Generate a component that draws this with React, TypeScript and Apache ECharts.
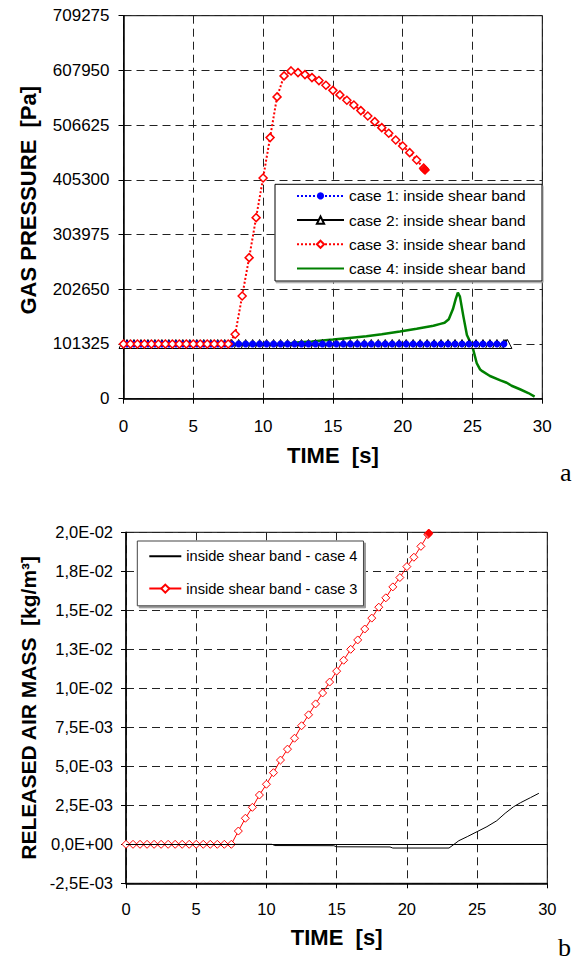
import React, { useEffect, useRef } from "react";
import * as echarts from "echarts";

const FONT = "'Liberation Sans', Arial, Helvetica, sans-serif";
const SERIF = "'Liberation Serif', 'Times New Roman', serif";

// ---------- chart a: gas pressure ----------
const timeTicksA = [0, 5, 10, 15, 20, 25, 30];
const pressureTicks = [0, 101325, 202650, 303975, 405300, 506625, 607950, 709275];

const case1Time = [0, 0.25, 0.75, 1.25, 1.75, 2.25, 2.75, 3.25, 3.75, 4.25, 4.75, 5.25, 5.75, 6.25, 6.75, 7.25, 7.75, 8.25, 8.75, 9.25, 9.75, 10.25, 10.75, 11.25, 11.75, 12.25, 12.75, 13.25, 13.75, 14.25, 14.75, 15.25, 15.75, 16.25, 16.75, 17.25, 17.75, 18.25, 18.75, 19.25, 19.75, 20.25, 20.75, 21.25, 21.75, 22.25, 22.75, 23.25, 23.75, 24.25, 24.75, 25.25, 25.75, 26.25, 26.75, 27.25];
const case1Pressure = [101325, 101325, 101325, 101325, 101325, 101325, 101325, 101325, 101325, 101325, 101325, 101325, 101325, 101325, 101325, 101325, 101325, 101325, 101325, 101325, 101325, 101325, 101325, 101325, 101325, 101325, 101325, 101325, 101325, 101325, 101325, 101325, 101325, 101325, 101325, 101325, 101325, 101325, 101325, 101325, 101325, 101325, 101325, 101325, 101325, 101325, 101325, 101325, 101325, 101325, 101325, 101325, 101325, 101325, 101325, 101325];

const case2Time = [0, 0.25, 0.75, 1.25, 1.75, 2.25, 2.75, 3.25, 3.75, 4.25, 4.75, 5.25, 5.75, 6.25, 6.75, 7.25, 7.75, 8.25, 8.75, 9.25, 9.75, 10.25, 10.75, 11.25, 11.75, 12.25, 12.75, 13.25, 13.75, 14.25, 14.75, 15.25, 15.75, 16.25, 16.75, 17.25, 17.75, 18.25, 18.75, 19.25, 19.75, 20.25, 20.75, 21.25, 21.75, 22.25, 22.75, 23.25, 23.75, 24.25, 24.75, 25.25, 25.75, 26.25, 26.75, 27.25, 27.4, 27.5];
const case2Pressure = [101325, 101325, 101325, 101325, 101325, 101325, 101325, 101325, 101325, 101325, 101325, 101325, 101325, 101325, 101325, 101325, 101325, 101325, 101325, 101325, 101325, 101325, 101325, 101325, 101325, 101325, 101325, 101325, 101325, 101325, 101325, 101325, 101325, 101325, 101325, 101325, 101325, 101325, 101325, 101325, 101325, 101325, 101325, 101325, 101325, 101325, 101325, 101325, 101325, 101325, 101325, 101325, 101325, 101325, 101325, 101325, 101325, 101325];

const case3TimeA = [0, 0.5, 1, 1.5, 2, 2.5, 3, 3.5, 4, 4.5, 5, 5.5, 6, 6.5, 7, 7.5, 8, 8.5, 9, 9.5, 10, 10.5, 11, 11.5, 12, 12.5, 13, 13.5, 14, 14.5, 15, 15.5, 16, 16.5, 17, 17.5, 18, 18.5, 19, 19.5, 20, 20.5, 21, 21.5, 21.55, 21.6];
const case3Pressure = [101325, 101325, 101325, 101325, 101325, 101325, 101325, 101325, 101325, 101325, 101325, 101325, 101325, 101325, 101325, 101325, 119300, 190200, 261200, 335300, 408800, 483500, 558900, 597800, 607000, 603900, 600200, 594600, 589100, 580500, 571000, 562600, 552800, 544000, 533500, 523500, 513100, 502000, 491600, 479200, 468100, 455700, 442200, 427000, 425000, 423500];

const case4TimeA = [0, 11.5, 12.6, 13.5, 15.0, 16.0, 17.4, 18.5, 19.8, 21.0, 22.2, 22.7, 23.0, 23.3, 23.6, 23.8, 23.95, 24.1, 24.35, 24.6, 25.0, 25.3, 25.55, 25.7, 26.25, 27.0, 27.45, 27.8, 28.4, 29.0, 29.45];
const case4Pressure = [101325, 101325, 104500, 106000, 109500, 112000, 115500, 119500, 124500, 129500, 135000, 138500, 140500, 147000, 166000, 185000, 196500, 189000, 152000, 118000, 96000, 66000, 54000, 51000, 42000, 34000, 29500, 24000, 17500, 10500, 3800];

// ---------- chart b: released air mass ----------
const timeTicksB = [0, 5, 10, 15, 20, 25, 30];
const massTicks = [-0.0025, 0, 0.0025, 0.005, 0.0075, 0.01, 0.0125, 0.015, 0.0175, 0.02];

const case4TimeB = [0, 10.4, 10.6, 14.8, 15.0, 18.8, 19.0, 23.0, 23.3, 23.7, 24.3, 25.0, 25.7, 26.4, 27.0, 27.6, 28.1, 28.8, 29.4];
const case4Mass = [0, 0, -0.00008, -0.00009, -0.00016, -0.00017, -0.00024, -0.00024, -0.00004, 0.00023, 0.00049, 0.00081, 0.00113, 0.00151, 0.00199, 0.00241, 0.00267, 0.00299, 0.00327];

const case3TimeB = [0, 0.5, 1, 1.5, 2, 2.5, 3, 3.5, 4, 4.5, 5, 5.5, 6, 6.5, 7, 7.5, 8, 8.5, 9, 9.5, 10, 10.5, 11, 11.5, 12, 12.5, 13, 13.5, 14, 14.5, 15, 15.5, 16, 16.5, 17, 17.5, 18, 18.5, 19, 19.5, 20, 20.5, 21, 21.5, 21.53, 21.56];
const case3Mass = [0, 0, 0, 0, 0, 0, 0, 0, 0, 0, 0, 0, 0, 0, 0, 0, 0.00085, 0.00167, 0.00237, 0.00316, 0.00385, 0.00459, 0.0054, 0.0061, 0.0068, 0.0076, 0.0083, 0.009, 0.0097, 0.0104, 0.0111, 0.0118, 0.0125, 0.0131, 0.0138, 0.0145, 0.0152, 0.0158, 0.0165, 0.0171, 0.0178, 0.0184, 0.0191, 0.01985, 0.0199, 0.01995];

const legendA = ["case 1: inside shear band", "case 2: inside shear band", "case 3: inside shear band", "case 4: inside shear band"];
const legendB = ["inside shear band - case 4", "inside shear band - case 3"];

function pairs(xs: number[], ys: number[]) {
  return xs.map((x, i) => [x, ys[i]]);
}

function filledLast(xs: number[], ys: number[], color: string) {
  return xs.map((x, i) =>
    i === xs.length - 1 ? { value: [x, ys[i]], itemStyle: { color } } : [x, ys[i]]
  );
}

function expLabel(v: number): string {
  if (Math.abs(v) < 1e-12) return "0,0E+00";
  const sign = v < 0 ? "-" : "";
  const a = Math.abs(v);
  let e = Math.floor(Math.log10(a) + 1e-9);
  let m = Math.round((a / Math.pow(10, e)) * 10 + 1e-6) / 10;
  if (m >= 10) {
    m /= 10;
    e += 1;
  }
  const ms = m.toFixed(1).replace(".", ",");
  const es = (e < 0 ? "-" : "+") + String(Math.abs(e)).padStart(2, "0");
  return sign + ms + "E" + es;
}

const dashed = { show: true, lineStyle: { color: "#222", type: [8, 5] as any, width: 1 } };
const axisLine = { show: true, onZero: false, lineStyle: { color: "#000", width: 1.5 } };
const axisTick = { show: true, length: 5, lineStyle: { color: "#000", width: 1 } };
const labelA = { fontFamily: FONT, fontSize: 17, color: "#000" };
const labelB = { fontFamily: FONT, fontSize: 16.5, color: "#000" };
const nameStyle = { fontFamily: FONT, fontSize: 22, fontWeight: "bold" as const, color: "#000" };

export default function App() {
  const ref = useRef<HTMLDivElement>(null);

  useEffect(() => {
    if (!ref.current) return;
    const chart = echarts.init(ref.current, undefined, { renderer: "svg" });
    chart.setOption({
      animation: false,
      backgroundColor: "#fff",
      grid: [
        { left: 123.5, top: 15.7, width: 418.8, height: 383, show: true, borderColor: "#000", borderWidth: 1 },
        { left: 126, top: 532.3, width: 421.3, height: 351, show: true, borderColor: "#000", borderWidth: 1 },
      ],
      xAxis: [
        {
          type: "value", gridIndex: 0, min: timeTicksA[0], max: timeTicksA[timeTicksA.length - 1], interval: 5,
          axisLine, axisTick, splitLine: dashed,
          axisLabel: { ...labelA, margin: 19 },
          name: "TIME  [s]", nameLocation: "middle", nameGap: 46, nameTextStyle: nameStyle,
        },
        {
          type: "value", gridIndex: 1, min: timeTicksB[0], max: timeTicksB[timeTicksB.length - 1], interval: 5,
          axisLine, axisTick, splitLine: dashed,
          axisLabel: { ...labelB, margin: 17.5 },
          name: "TIME  [s]", nameLocation: "middle", nameGap: 43, nameTextStyle: nameStyle,
        },
      ],
      yAxis: [
        {
          type: "value", gridIndex: 0, min: pressureTicks[0], max: pressureTicks[pressureTicks.length - 1], interval: 101325,
          axisLine, axisTick, splitLine: dashed,
          axisLabel: { ...labelA, margin: 14, formatter: (v: number) => String(v) },
          name: "GAS PRESSURE  [Pa]", nameLocation: "middle", nameGap: 84,
          nameTextStyle: { ...nameStyle, padding: [0, 0, 0, 14] },
        },
        {
          type: "value", gridIndex: 1, min: massTicks[0], max: massTicks[massTicks.length - 1], interval: 0.0025,
          axisLine, axisTick, splitLine: dashed,
          axisLabel: { ...labelB, margin: 13, formatter: (v: number) => expLabel(v) },
          name: "RELEASED AIR MASS  [kg/m³]", nameLocation: "middle", nameGap: 85,
          nameTextStyle: { ...nameStyle, fontSize: 21 },
        },
      ],
      legend: [
        {
          data: [
            { name: legendA[0] },
            { name: legendA[1] },
            { name: legendA[2] },
            { name: legendA[3], itemStyle: { opacity: 0 } },
          ],
          orient: "vertical", left: 275, top: 184.3,
          itemWidth: 47, itemHeight: 9, itemGap: 8.2, padding: [3.6, 17, 6.5, 21],
          backgroundColor: "transparent", borderWidth: 0,
          selectedMode: false, z: 5,
          textStyle: { fontFamily: FONT, fontSize: 15.5, color: "#000" },
        },
        {
          data: [
            { name: legendB[0], itemStyle: { opacity: 0 } },
            { name: legendB[1] },
          ],
          orient: "vertical", left: 137.3, top: 541,
          itemWidth: 32, itemHeight: 10, itemGap: 17.4, padding: [7.7, 6, 9.7, 11],
          backgroundColor: "#fff", borderColor: "#444", borderWidth: 1,
          shadowColor: "#999", shadowOffsetX: 2, shadowOffsetY: 2, shadowBlur: 0,
          selectedMode: false,
          textStyle: { fontFamily: FONT, fontSize: 14.6, color: "#000" },
        },
      ],
      graphic: [
        {
          type: "rect", z: 4, silent: true,
          shape: { x: 275, y: 184.3, width: 267, height: 96.7 },
          style: { fill: "#fff", stroke: "#000", lineWidth: 1, shadowColor: "#999", shadowOffsetX: 1, shadowOffsetY: 1.5, shadowBlur: 0 },
        },
        { type: "text", x: 560, y: 472, style: { text: "a", fontFamily: SERIF, fontSize: 26, fill: "#000", align: "left", verticalAlign: "middle" } },
        { type: "text", x: 558, y: 947, style: { text: "b", fontFamily: SERIF, fontSize: 26, fill: "#000", align: "left", verticalAlign: "middle" } },
      ],
      series: [
        {
          name: legendA[1], type: "line", xAxisIndex: 0, yAxisIndex: 0,
          data: pairs(case2Time, case2Pressure),
          symbol: "triangle", symbolSize: 9,
          itemStyle: { color: "#fff", borderColor: "#000", borderWidth: 1 },
          lineStyle: { color: "#000", width: 1 },
        },
        {
          name: legendA[0], type: "line", xAxisIndex: 0, yAxisIndex: 0,
          data: pairs(case1Time, case1Pressure),
          symbol: "circle", symbolSize: 7,
          itemStyle: { color: "#0000ff" },
          lineStyle: { color: "#0000ff", width: 2, type: "dotted" },
        },
        {
          name: legendA[2], type: "line", xAxisIndex: 0, yAxisIndex: 0,
          data: filledLast(case3TimeA, case3Pressure, "#ff0000"),
          symbol: "diamond", symbolSize: 8,
          itemStyle: { color: "#fff", borderColor: "#ff0000", borderWidth: 1.5 },
          lineStyle: { color: "#ff0000", width: 2, type: "dotted" },
        },
        {
          name: legendA[3], type: "line", xAxisIndex: 0, yAxisIndex: 0,
          data: pairs(case4TimeA, case4Pressure),
          symbol: "none", showSymbol: false,
          itemStyle: { color: "#008000" },
          lineStyle: { color: "#008000", width: 2.5 },
        },
        {
          name: legendB[0], type: "line", xAxisIndex: 1, yAxisIndex: 1,
          data: pairs(case4TimeB, case4Mass),
          symbol: "none", showSymbol: false,
          itemStyle: { color: "#000" },
          lineStyle: { color: "#000", width: 1 },
          markLine: {
            silent: true, symbol: "none", label: { show: false },
            lineStyle: { color: "#000", width: 1, type: "solid" },
            data: [{ yAxis: 0 }],
          },
        },
        {
          name: legendB[1], type: "line", xAxisIndex: 1, yAxisIndex: 1,
          data: filledLast(case3TimeB, case3Mass, "#ff0000"),
          symbol: "diamond", symbolSize: 8,
          itemStyle: { color: "#fff", borderColor: "#ff0000", borderWidth: 1 },
          lineStyle: { color: "#ff0000", width: 1 },
        },
      ],
    });
    return () => chart.dispose();
  }, []);

  return (
    <div
      ref={ref}
      style={{ position: "absolute", left: 0, top: 0, width: 573, height: 963, background: "#fff" }}
    />
  );
}
